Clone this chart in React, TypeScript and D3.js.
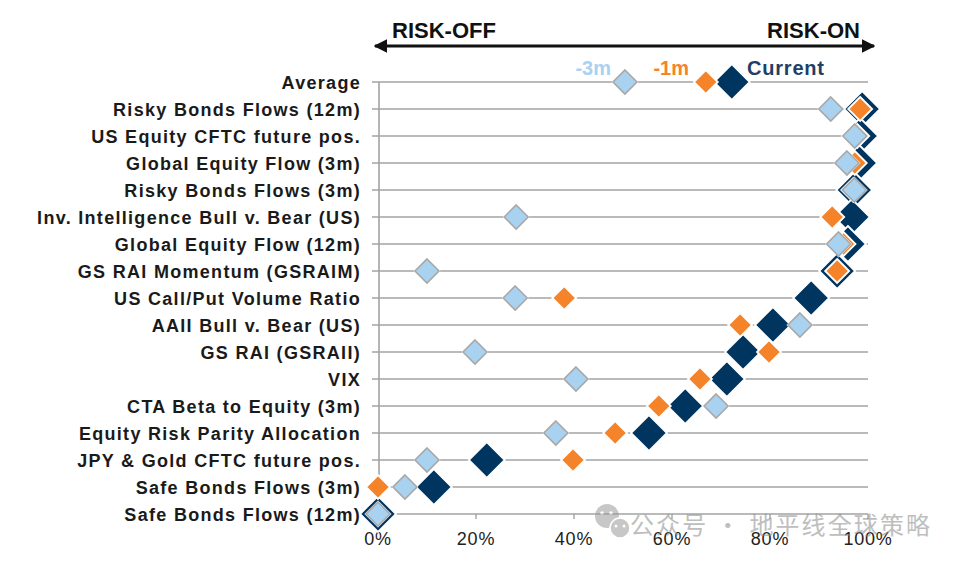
import React from "react";
import * as d3 from "d3";

const categories = [
  "Average",
  "Risky Bonds Flows (12m)",
  "US Equity CFTC future pos.",
  "Global Equity Flow (3m)",
  "Risky Bonds Flows (3m)",
  "Inv. Intelligence Bull v. Bear (US)",
  "Global Equity Flow (12m)",
  "GS RAI Momentum (GSRAIM)",
  "US Call/Put Volume Ratio",
  "AAII Bull v. Bear (US)",
  "GS RAI (GSRAII)",
  "VIX",
  "CTA Beta to Equity (3m)",
  "Equity Risk Parity Allocation",
  "JPY & Gold CFTC future pos.",
  "Safe Bonds Flows (3m)",
  "Safe Bonds Flows (12m)",
];

const current = [0.722, 0.988, 0.984, 0.982, 0.972, 0.967, 0.959, 0.937, 0.884, 0.806, 0.745, 0.712, 0.627, 0.553, 0.222, 0.114, 0.0];
const oneMonth = [0.669, 0.984, 0.978, 0.973, 0.97, 0.927, 0.95, 0.937, 0.38, 0.739, 0.798, 0.657, 0.573, 0.484, 0.398, 0.0, 0.0];
const threeMonth = [0.504, 0.924, 0.973, 0.957, 0.972, 0.282, 0.94, 0.1, 0.28, 0.861, 0.198, 0.404, 0.69, 0.363, 0.1, 0.055, 0.0];

const xTicks = [0, 0.2, 0.4, 0.6, 0.8, 1.0];
const seriesNames = ["-3m", "-1m", "Current"];

const NAVY = "#003560";
const ORANGE = "#F5832A";
const LIGHT = "#A9D1F0";

function diamond(cx: number, cy: number, r: number) {
  return `M${cx},${cy - r}L${cx + r},${cy}L${cx},${cy + r}L${cx - r},${cy}Z`;
}

export default function App() {
  const x = d3.scaleLinear().domain([0, 1]).range([378, 868]);
  const y = d3.scalePoint<string>().domain(categories).range([82, 514]);
  const fmt = d3.format(".0%");
  const font = "'Liberation Sans', Arial, sans-serif";

  return (
    <svg width={960} height={564} style={{ position: "absolute", left: 0, top: 0, background: "#fff" }}>
      {/* risk arrow */}
      <defs>
        <marker id="ah" viewBox="0 0 10 10" refX="9" refY="5" markerWidth="4.6" markerHeight="4.6" orient="auto-start-reverse" markerUnits="strokeWidth">
          <path d="M0,0L10,5L0,10Z" fill="#111" />
        </marker>
      </defs>
      <line x1={375} x2={874} y1={46} y2={46} stroke="#111" strokeWidth={3} markerStart="url(#ah)" markerEnd="url(#ah)" />
      <text x={392} y={38} fontFamily={font} fontWeight="bold" fontSize={22} fill="#111">RISK-OFF</text>
      <text x={860} y={38} fontFamily={font} fontWeight="bold" fontSize={22} fill="#111" textAnchor="end">RISK-ON</text>

      {/* gridlines */}
      {categories.map((c) => (
        <line key={c} x1={372} x2={868} y1={y(c)} y2={y(c)} stroke="#a3a3a3" strokeWidth={1.6} />
      ))}
      <line x1={379} x2={379} y1={y(categories[0])} y2={519} stroke="#a3a3a3" strokeWidth={1.6} />
      {xTicks.map((t) => (
        <g key={t}>
          <line x1={x(t)} x2={x(t)} y1={514} y2={519} stroke="#a3a3a3" strokeWidth={1.4} />
          <text x={x(t)} y={545} fontFamily={font} fontSize={18} letterSpacing={0.8} textAnchor="middle" fill="#222">
            {fmt(t)}
          </text>
        </g>
      ))}

      {/* category labels */}
      {categories.map((c) => (
        <text key={c} x={361} y={(y(c) as number) + 6.5} fontFamily={font} fontWeight="bold" fontSize={18} letterSpacing={1.3} textAnchor="end" fill="#1a1a1a">
          {c}
        </text>
      ))}

      {/* current */}
      {categories.map((c, i) => (
        <path key={"c" + c} d={diamond(x(current[i]), y(c) as number, 18)} fill={NAVY} stroke="#fff" strokeWidth={1.8} />
      ))}
      {/* -1m */}
      {categories.map((c, i) => (
        <path key={"o" + c} d={diamond(x(oneMonth[i]), y(c) as number, 12)} fill={ORANGE} stroke="#fff" strokeWidth={1.8} />
      ))}
      {/* -3m */}
      {categories.map((c, i) => (
        <g key={"l" + c}>
          <path d={diamond(x(threeMonth[i]), y(c) as number, 13.5)} fill="#fff" />
          <path d={diamond(x(threeMonth[i]), y(c) as number, 12)} fill={LIGHT} stroke="#a8a8a8" strokeWidth={1.6} />
        </g>
      ))}

      {/* series labels on Average row */}
      <text x={611} y={75} fontFamily={font} fontWeight="bold" fontSize={20} textAnchor="end" fill={LIGHT}>{seriesNames[0]}</text>
      <text x={689} y={75} fontFamily={font} fontWeight="bold" fontSize={20} textAnchor="end" fill={ORANGE}>{seriesNames[1]}</text>
      <text x={747} y={75} fontFamily={font} fontWeight="bold" fontSize={20} letterSpacing={0.8} fill="#1f3f66">{seriesNames[2]}</text>

      {/* watermark */}
      <g opacity={0.55}>
        <circle cx={607} cy={516} r={12} fill="#9a9a9a" />
        <circle cx={620} cy={528} r={10} fill="#9a9a9a" stroke="#fff" strokeWidth={1.5} />
        <circle cx={602} cy={513} r={1.8} fill="#fff" />
        <circle cx={611} cy={513} r={1.8} fill="#fff" />
        <circle cx={616} cy={526} r={1.5} fill="#fff" />
        <circle cx={624} cy={526} r={1.5} fill="#fff" />
        <text x={630} y={534} fontFamily="'Noto Sans CJK SC', sans-serif" fontSize={24} fill="#8a8a8a" textLength={300} lengthAdjust="spacing">
          公众号 · 地平线全球策略
        </text>
      </g>
    </svg>
  );
}
